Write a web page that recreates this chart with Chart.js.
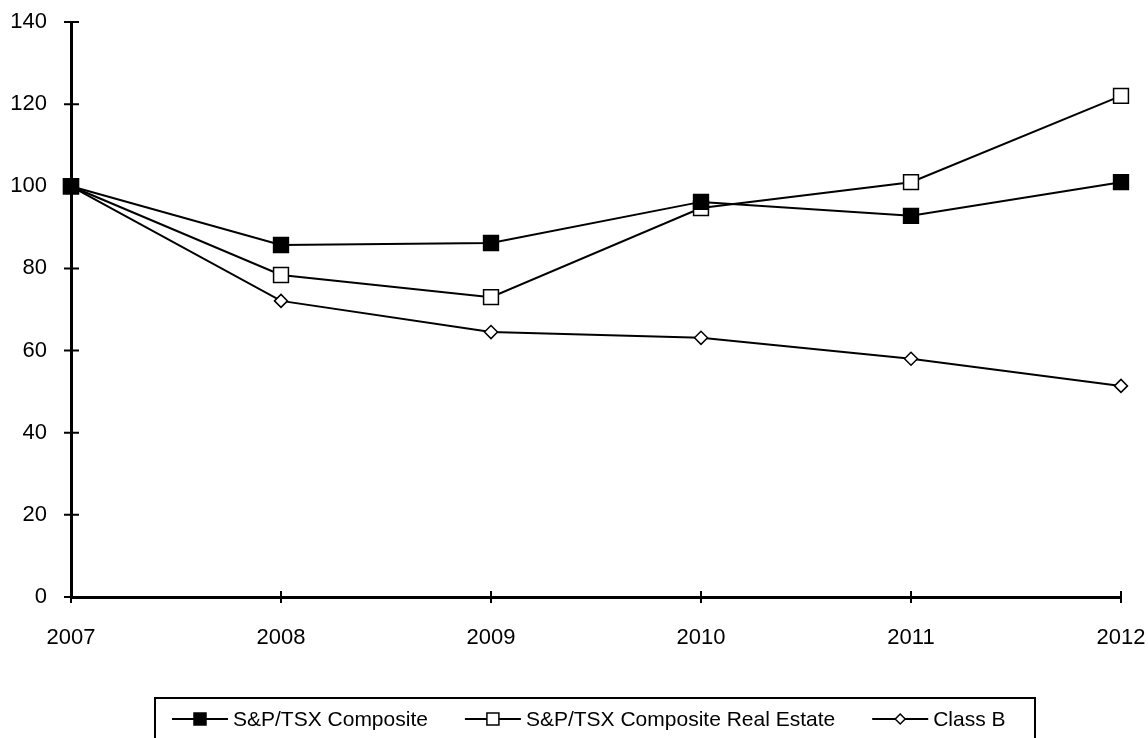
<!DOCTYPE html>
<html>
<head>
<meta charset="utf-8">
<script src="https://cdn.jsdelivr.net/npm/chart.js@4"></script>
<style>
html,body{margin:0;padding:0;background:#fff;}
#wrap{width:1148px;height:738px;position:relative;}
</style>
</head>
<body>
<div id="wrap"><canvas id="c" width="1148" height="738"></canvas></div>
<script>
const years = ['2007','2008','2009','2010','2011','2012'];
const composite = [100, 85.7, 86.2, 96.2, 92.8, 101.0];
const realEstate = [100, 78.4, 73.0, 94.7, 101.0, 122.0];
const classB = [100, 72.1, 64.5, 63.1, 58.0, 51.4];
const yTicks = [0, 20, 40, 60, 80, 100, 120, 140];
const seriesNames = ['S&P/TSX Composite', 'S&P/TSX Composite Real Estate', 'Class B'];

const FONT = '"Liberation Sans", Arial, sans-serif';

const tickStubs = {
  id: 'tickStubs',
  afterDraw(chart) {
    const ctx = chart.ctx;
    const xs = chart.scales.x, ys = chart.scales.y;
    ctx.save();
    ctx.strokeStyle = '#000';
    ctx.lineWidth = 2;
    ctx.beginPath();
    yTicks.forEach(v => {
      const py = ys.getPixelForValue(v);
      ctx.moveTo(xs.left - 7, py); ctx.lineTo(xs.left + 8, py);
    });
    years.forEach((y, i) => {
      const px = xs.getPixelForValue(i);
      ctx.moveTo(px, ys.bottom - 6); ctx.lineTo(px, ys.bottom + 6);
    });
    ctx.stroke();
    ctx.restore();
  }
};

const customLegend = {
  id: 'customLegend',
  afterDraw(chart) {
    const ctx = chart.ctx;
    ctx.save();
    const boxL = 155, boxT = 698, boxR = 1035, boxB = 745;
    ctx.strokeStyle = '#000';
    ctx.lineWidth = 2;
    ctx.strokeRect(boxL, boxT, boxR - boxL, boxB - boxT);
    ctx.font = '21px ' + FONT;
    ctx.textBaseline = 'middle';
    ctx.fillStyle = '#000';
    const cy = 719;
    let x = 172;
    chart.data.datasets.forEach((ds, i) => {
      ctx.beginPath();
      ctx.lineWidth = 2;
      ctx.strokeStyle = '#000';
      ctx.moveTo(x, cy); ctx.lineTo(x + 56, cy); ctx.stroke();
      const mx = x + 28;
      ctx.lineWidth = 1.5;
      if (ds.pointStyle === 'rectRot') {
        ctx.beginPath();
        ctx.moveTo(mx, cy - 5); ctx.lineTo(mx + 5, cy); ctx.lineTo(mx, cy + 5); ctx.lineTo(mx - 5, cy); ctx.closePath();
        ctx.fillStyle = '#fff'; ctx.fill(); ctx.stroke();
      } else {
        ctx.fillStyle = ds.pointBackgroundColor;
        ctx.fillRect(mx - 6, cy - 6, 12, 12);
        ctx.strokeRect(mx - 6, cy - 6, 12, 12);
      }
      ctx.fillStyle = '#000';
      ctx.fillText(ds.label, x + 61, cy + 1);
      x += 61 + ctx.measureText(ds.label).width + 37;
    });
    ctx.restore();
  }
};

const common = {
  borderColor: '#000',
  borderWidth: 2,
  pointBorderColor: '#000',
  pointBorderWidth: 1.5,
  tension: 0,
  fill: false
};

new Chart(document.getElementById('c'), {
  type: 'line',
  data: {
    labels: years,
    datasets: [
      Object.assign({}, common, { label: seriesNames[0], data: composite, pointStyle: 'rect', pointRadius: 10.5, pointBackgroundColor: '#000' }),
      Object.assign({}, common, { label: seriesNames[1], data: realEstate, pointStyle: 'rect', pointRadius: 10.5, pointBackgroundColor: '#fff' }),
      Object.assign({}, common, { label: seriesNames[2], data: classB, pointStyle: 'rectRot', pointRadius: 6.5, pointBackgroundColor: '#fff' })
    ]
  },
  options: {
    responsive: false,
    animation: false,
    devicePixelRatio: 1,
    layout: { padding: { left: 0, right: 27, top: 22, bottom: 81 } },
    plugins: { legend: { display: false }, tooltip: { enabled: false } },
    scales: {
      x: {
        offset: false,
        grid: { display: false, drawOnChartArea: false },
        border: { display: true, color: '#000', width: 3 },
        ticks: { color: '#000', font: { family: FONT, size: 22 }, padding: 20, maxRotation: 0 },
        afterFit(s) { s.height = 60; s.paddingLeft = 0; s.paddingRight = 0; }
      },
      y: {
        min: 0, max: 140,
        afterBuildTicks(s) { s.ticks = yTicks.map(v => ({ value: v })); },
        grid: { display: false, drawOnChartArea: false },
        border: { display: true, color: '#000', width: 3 },
        ticks: { color: '#000', font: { family: FONT, size: 22 }, padding: 16 },
        afterFit(s) { s.width = 71; s.paddingTop = 0; s.paddingBottom = 0; }
      }
    }
  },
  plugins: [tickStubs, customLegend]
});
</script>
</body>
</html>
